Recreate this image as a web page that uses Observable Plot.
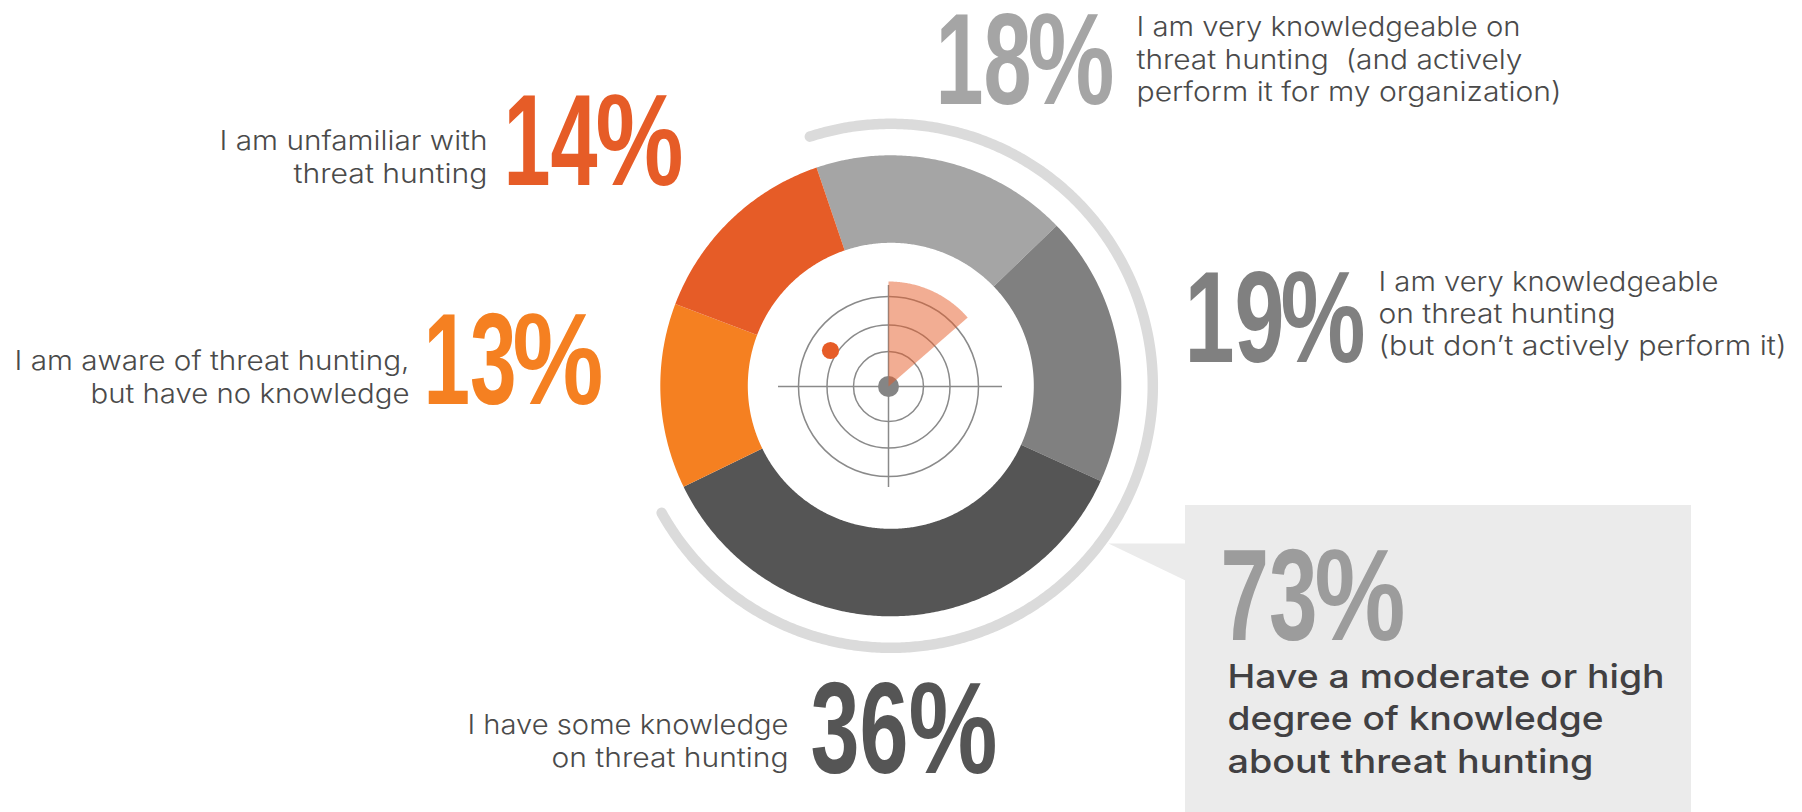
<!DOCTYPE html>
<html>
<head>
<meta charset="utf-8">
<style>html,body{margin:0;padding:0;background:#fff;overflow:hidden}svg{display:block}</style>
<script src="https://cdn.jsdelivr.net/npm/d3@7"></script>
<script src="https://cdn.jsdelivr.net/npm/@observablehq/plot@0.6"></script>
</head>
<body>
<div id="chart"></div>
<script>
// ---- data ----
const categories = [
  "I am very knowledgeable on threat hunting (and actively perform it for my organization)",
  "I am very knowledgeable on threat hunting (but don’t actively perform it)",
  "I have some knowledge on threat hunting",
  "I am aware of threat hunting, but have no knowledge",
  "I am unfamiliar with threat hunting"
];
const shares = [18, 19, 36, 13, 14];
const sliceColors = ["#a5a5a5", "#808080", "#555555", "#f58021", "#e65c27"];
const labelLines = [
  ["I am very knowledgeable on", "threat hunting  (and actively", "perform it for my organization)"],
  ["I am very knowledgeable", "on threat hunting", "(but don’t actively perform it)"],
  ["I have some knowledge", "on threat hunting"],
  ["I am aware of threat hunting,", "but have no knowledge"],
  ["I am unfamiliar with", "threat hunting"]
];
const calloutShare = 73;
const calloutLines = ["Have a moderate or high", "degree of knowledge", "about threat hunting"];

// ---- layout (page units) ----
const W = 1802, H = 812;
const donut = {cx: 890.3, cy: 385.3, outer: 230.5, inner: 143, start: -18.8};
const ring = {r: 262, from: -18, to: 241};
const radar = {cx: 888, cy: 386, radii: [35, 61.5, 90], hub: 10.5, spanX: [778, 1002], spanY: [285, 487], sweep: 49, reach: 105, blip: [830, 350], blipR: 8.6};
const textPos = [
  {dx: 935, dw: 96, px: 1027, pw: 87, by: 103, lx: 1136, anchor: "start", base: [35, 68, 100], widths: [384, 386, 425]},
  {dx: 1184, dw: 100, px: 1280, pw: 85, by: 361, lx: 1378, anchor: "start", base: [290, 322, 354], widths: [340, 237, 408]},
  {dx: 810, dw: 98, px: 908, pw: 89, by: 772, lx: 788, anchor: "end", base: [733, 766], widths: [321, 237]},
  {dx: 423, dw: 93, px: 512, pw: 91, by: 403, lx: 409, anchor: "end", base: [369, 402], widths: [395, 319]},
  {dx: 503, dw: 94, px: 595, pw: 88, by: 184, lx: 487, anchor: "end", base: [149, 182], widths: [268, 194]}
];
const calloutPos = {dx: 1220, dw: 97, px: 1314, pw: 91, by: 639, lx: 1227, base: [687, 729, 772], widths: [437, 376, 366]};

const polar = (cx, cy, r, deg) => {
  const a = deg * Math.PI / 180;
  return [cx + r * Math.sin(a), cy - r * Math.cos(a)];
};
const arcPts = (cx, cy, r, a0, a1) => d3.range(0, 1.0001, 1 / Math.max(2, Math.ceil(Math.abs(a1 - a0) * 2))).map(t => polar(cx, cy, r, a0 + (a1 - a0) * t));

// slices derived from the shares
const total = d3.sum(shares);
let acc = donut.start;
const slicePts = shares.flatMap((v, i) => {
  const a0 = acc, a1 = acc + v / total * 360;
  acc = a1;
  return [...arcPts(donut.cx, donut.cy, donut.outer, a0, a1), ...arcPts(donut.cx, donut.cy, donut.inner, a1, a0)]
    .map(([x, y]) => ({x, y, color: sliceColors[i], name: categories[i]}));
});
const sectorPts = [[radar.cx, radar.cy], ...arcPts(radar.cx, radar.cy, radar.reach, 0, radar.sweep)].map(([x, y]) => ({x, y}));
const ringPts = arcPts(donut.cx, donut.cy, ring.r, ring.from, ring.to).map(([x, y]) => ({x, y}));
const pointerPts = [{x: 1185, y: 543}, {x: 1108, y: 543}, {x: 1185, y: 580}];

const bigRows = [
  ...shares.map((v, i) => ({t: String(v), c: sliceColors[i], p: textPos[i]})),
  {t: String(calloutShare), c: "#9c9c9c", p: calloutPos}
];
const digitRows = bigRows.map(d => ({t: d.t, x: d.p.dx, y: d.p.by, c: d.c, w: d.p.dw}));
const pctRows = bigRows.map(d => ({t: "%", x: d.p.px, y: d.p.by, c: d.c, w: d.p.pw}));
const lineRows = labelLines.flatMap((ls, i) => ls.map((t, j) => ({t, x: textPos[i].lx, y: textPos[i].base[j], anchor: textPos[i].anchor, w: textPos[i].widths[j]})));
const startRows = lineRows.filter(d => d.anchor === "start");
const endRows = lineRows.filter(d => d.anchor === "end");
const calloutRows = calloutLines.map((t, j) => ({t, x: calloutPos.lx, y: calloutPos.base[j], w: calloutPos.widths[j]}));

const labelFont = "Inter";
const labelStyle = {x: "x", y: "y", text: "t", fill: "#4a4a4a", lineAnchor: "bottom", fontFamily: labelFont, fontWeight: 300, fontSize: 27};
const bigStyle = {x: "x", y: "y", text: "t", fill: "c", textAnchor: "start", lineAnchor: "bottom", fontFamily: "Liberation Sans", fontWeight: 700, fontSize: 129};
const plot = Plot.plot({
  width: W, height: H,
  margin: 0,
  x: {domain: [0, W], range: [0, W], axis: null},
  y: {domain: [0, H], range: [0, H], axis: null},
  color: {type: "identity"},
  r: {type: "identity"},
  marks: [
    Plot.rect([{}], {x1: () => 1185, x2: () => 1691, y1: () => 505, y2: () => 812, fill: "#ebebeb"}),
    Plot.line(pointerPts, {x: "x", y: "y", fill: "#ebebeb", stroke: null}),
    Plot.line(ringPts, {x: "x", y: "y", stroke: "#dbdbdb", strokeWidth: 10.5, strokeLinecap: "round"}),
    Plot.line(slicePts, {x: "x", y: "y", z: "color", fill: "color", stroke: null, title: "name"}),
    Plot.dot(radar.radii, {x: () => radar.cx, y: () => radar.cy, r: d => d, stroke: "#8a8a8a", strokeWidth: 1.5, fill: null}),
    Plot.ruleX([radar.cx], {y1: radar.spanY[0], y2: radar.spanY[1], stroke: "#8a8a8a", strokeWidth: 1.5}),
    Plot.ruleY([radar.cy], {x1: radar.spanX[0], x2: radar.spanX[1], stroke: "#8a8a8a", strokeWidth: 1.5}),
    Plot.dot([radar.hub], {x: () => radar.cx, y: () => radar.cy, r: d => d, fill: "#858585", stroke: null}),
    Plot.line(sectorPts, {x: "x", y: "y", fill: "#e65c27", fillOpacity: 0.5, stroke: null}),
    Plot.dot([radar.blipR], {x: () => radar.blip[0], y: () => radar.blip[1], r: d => d, fill: "#e65c27", stroke: null}),
    Plot.text(digitRows, {...bigStyle, className: "big-digits"}),
    Plot.text(pctRows, {...bigStyle, className: "big-pct"}),
    Plot.text(startRows, {...labelStyle, textAnchor: "start", className: "lab-start"}),
    Plot.text(endRows, {...labelStyle, textAnchor: "end", className: "lab-end"}),
    Plot.text(calloutRows, {x: "x", y: "y", text: "t", textAnchor: "start", fill: "#414042", lineAnchor: "bottom", fontFamily: labelFont, fontWeight: 500, fontSize: 33, className: "callout"})
  ]
});
const fit = (cls, rows) => d3.select(plot).selectAll(`.${cls} text`).attr("textLength", (_, i) => rows[i].w).attr("lengthAdjust", "spacingAndGlyphs");
fit("big-digits", digitRows);
fit("big-pct", pctRows);
fit("lab-start", startRows);
fit("lab-end", endRows);
fit("callout", calloutRows);
document.getElementById("chart").append(plot);
</script>
</body>
</html>
